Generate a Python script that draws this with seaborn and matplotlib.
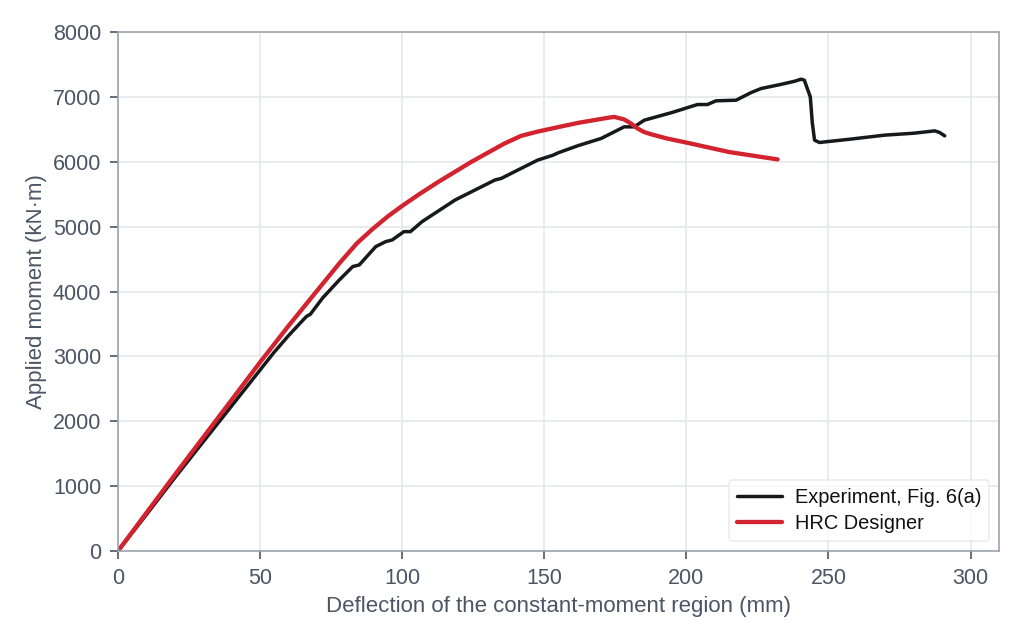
import numpy as np
import pandas as pd
import matplotlib
matplotlib.use("Agg")
import matplotlib.pyplot as plt
import seaborn as sns

exp_defl = [0, 10, 20, 33, 45.3, 54.7, 60, 66.3, 67.7, 72, 77.9, 82.6, 84.9, 90.7, 94.2,
            96.5, 100.6, 102.9, 107, 118.6, 132.6, 134.9, 139.5, 147.7, 153, 155, 162,
            170, 178.1, 181.6, 185.2, 195, 203.9, 207.4, 210.4, 217.5, 222.8, 226.3, 233,
            238, 240.4, 241.5, 243.6, 244.3, 245.1, 246.8, 258, 269.7, 280, 287.4, 289.1,
            290.9]
exp_moment = [0, 560, 1130, 1850, 2530, 3051, 3320, 3615, 3650, 3900, 4179, 4385, 4410,
              4692, 4769, 4795, 4923, 4923, 5077, 5410, 5718, 5744, 5846, 6026, 6100,
              6140, 6250, 6359, 6538, 6538, 6641, 6760, 6882, 6882, 6939, 6949, 7067,
              7129, 7190, 7240, 7273, 7257, 7000, 6600, 6333, 6297, 6350, 6410, 6440,
              6476, 6451, 6399]

# HRC Designer prediction
hrc_defl = [0, 20, 40, 50, 60, 70, 78, 84, 89.5, 95, 100, 106, 112.8, 124.4, 136, 141.9,
            147.7, 155, 162, 168, 172, 174.6, 178.1, 180.5, 182.8, 185, 187.5, 193,
            200.4, 215, 232.1]
hrc_moment = [0, 1175, 2330, 2910, 3470, 4010, 4440, 4740, 4960, 5160, 5320, 5500, 5692,
              6000, 6282, 6400, 6465, 6535, 6600, 6645, 6675, 6692, 6652, 6590, 6513,
              6460, 6425, 6360, 6292, 6150, 6036]

sns.set_theme(style="ticks")
plt.rcParams["font.family"] = ["Liberation Sans", "DejaVu Sans"]

text_col = "#4b5563"
spine_col = "#9ca3af"
grid_col = "#e5e7eb"

exp_df = pd.DataFrame({"defl": exp_defl, "moment": exp_moment})
hrc_df = pd.DataFrame({"defl": hrc_defl, "moment": hrc_moment})

fig = plt.figure(figsize=(10.24, 6.4), dpi=100)
ax = fig.add_axes([0.1152, 0.139, 0.8604, 0.811])

sns.lineplot(data=exp_df, x="defl", y="moment", ax=ax, color="#17191d", linewidth=2.5,
             sort=False, label="Experiment, Fig. 6(a)")
sns.lineplot(data=hrc_df, x="defl", y="moment", ax=ax, color="#d2232e", linewidth=3.1,
             sort=False, label="HRC Designer")

ax.set_xlim(0, 310)
ax.set_ylim(0, 8000)
ax.set_xticks(range(0, 301, 50))
ax.set_yticks(range(0, 8001, 1000))
ax.grid(True, color=grid_col, linewidth=1.2)
ax.set_axisbelow(True)

for s in ax.spines.values():
    s.set_visible(True)
    s.set_color(spine_col)
    s.set_linewidth(1.2)
ax.tick_params(colors=text_col, labelsize=15.5, length=5.5, width=1.2, pad=6.5)

ax.set_xlabel("Deflection of the constant-moment region (mm)", color=text_col,
              fontsize=16, labelpad=5.5)
ax.set_ylabel("Applied moment (kN·m)", color=text_col, fontsize=16)

leg = ax.legend(loc="lower right", fontsize=14.4, frameon=True, fancybox=True,
                handlelength=2.25, handletextpad=0.65, labelspacing=0.35,
                borderpad=0.4)
leg.get_frame().set_edgecolor(grid_col)
leg.get_frame().set_linewidth(1.2)
for t in leg.get_texts():
    t.set_color("#111111")

fig.savefig("out.png", dpi=100)
